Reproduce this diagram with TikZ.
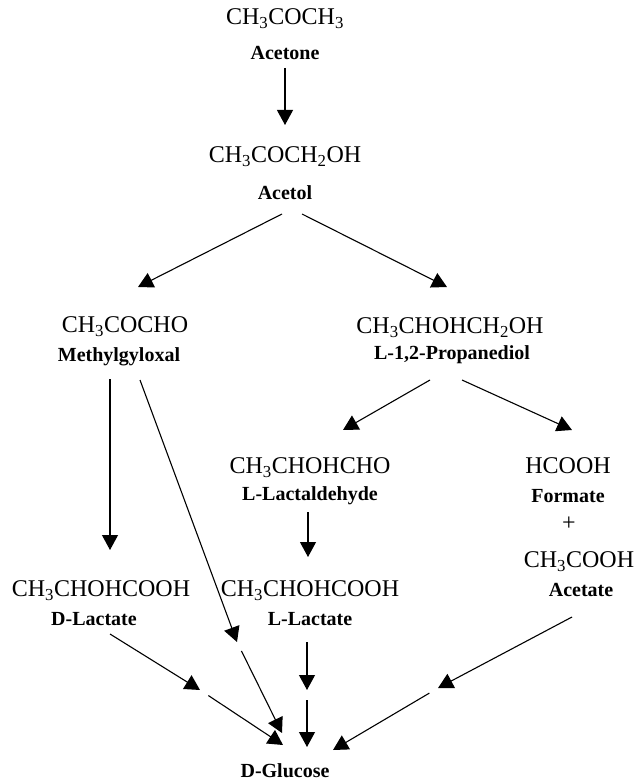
\documentclass[tikz,border=0pt]{standalone}
\usepackage{fontspec}
\setmainfont{Liberation Serif}
\usetikzlibrary{arrows.meta, calc}

\begin{document}
\begin{tikzpicture}[
    x=1pt, y=-1pt,
    chem/.style={font=\fontsize{24}{28}\selectfont, inner sep=0pt, text height=15pt, text depth=0pt},
    cname/.style={font=\fontsize{20}{23}\selectfont\bfseries, inner sep=0pt, text height=13pt, text depth=0pt},
    arr/.style={-{Triangle[length=15pt, width=16pt]}, line width=1.1pt},
    gap/.style={shorten <=10pt}
]
    \useasboundingbox (0,0) rectangle (637,783);

    % Acetone and acetol
    \node[chem] (acetoneF) at (285,17) {CH\textsubscript{3}COCH\textsubscript{3}};
    \node[cname] (acetoneL) at (285,53) {Acetone};
    \node[chem] (acetolF) at (285,155) {CH\textsubscript{3}COCH\textsubscript{2}OH};
    \node[cname] (acetolL) at (285,193) {Acetol};

    % Methylglyoxal branch
    \node[chem] (mgF) at (125,325) {CH\textsubscript{3}COCHO};
    \node[cname] (mgL) at (119,355) {Methylgyloxal};
    \node[chem] (dlF) at (101,589) {CH\textsubscript{3}CHOHCOOH};
    \node[cname] (dlL) at (94,619) {D-Lactate};

    % Propanediol branch
    \node[chem] (pdF) at (450,326) {CH\textsubscript{3}CHOHCH\textsubscript{2}OH};
    \node[cname] (pdL) at (452,353) {L-1,2-Propanediol};
    \node[chem] (laldF) at (310,466) {CH\textsubscript{3}CHOHCHO};
    \node[cname] (laldL) at (310,494) {L-Lactaldehyde};
    \node[chem] (llF) at (310,589) {CH\textsubscript{3}CHOHCOOH};
    \node[cname] (llL) at (310,619) {L-Lactate};
    \node[chem] (formF) at (568,466) {HCOOH};
    \node[cname] (formL) at (568,496) {Formate};
    \node[chem] (plus) at (569,523) {+};
    \node[chem] (acF) at (579,560) {CH\textsubscript{3}COOH};
    \node[cname] (acL) at (581,590) {Acetate};

    % Product
    \node[cname] (glc) at (285,771) {D-Glucose};

    % Mid points of the split arrows
    \coordinate (mgMid) at (237,642);
    \coordinate (dlMid) at (200,690);
    \coordinate (llMid) at (307,690);
    \coordinate (acMid) at (438,688);

    % Connections
    \draw[arr] ($(acetoneL)+(0,15)$) -- ($(acetolF)+(0,-30)$);
    \draw[arr] ($(acetolL)+(-3,21)$) -- ($(mgF)+(13,-38)$);
    \draw[arr] ($(acetolL)+(17,21)$) -- ($(pdF)+(-3,-39)$);
    \draw[arr] ($(mgL)+(-9,24)$) -- ($(dlF)+(9,-39)$);
    \draw[arr] ($(pdL)+(-22,27)$) -- ($(laldF)+(33,-36)$);
    \draw[arr] ($(pdL)+(10,27)$) -- ($(formF)+(4,-36)$);
    \draw[arr] ($(laldL)+(-2,18)$) -- ($(llF)+(-2,-32)$);

    % Into glucose
    \draw[arr] ($(mgL)+(21,25)$) -- (mgMid);
    \draw[arr, gap] (mgMid) -- ($(glc)+(-3,-38)$);
    \draw[arr] ($(dlL)+(16,15)$) -- (dlMid);
    \draw[arr, gap] (dlMid) -- ($(glc)+(-2,-26)$);
    \draw[arr] ($(llL)+(-3,23)$) -- (llMid);
    \draw[arr, gap] (llMid) -- ($(glc)+(22,-24)$);
    \draw[arr] ($(acL)+(-9,27)$) -- (acMid);
    \draw[arr, gap] (acMid) -- ($(glc)+(48,-21)$);
\end{tikzpicture}
\end{document}
